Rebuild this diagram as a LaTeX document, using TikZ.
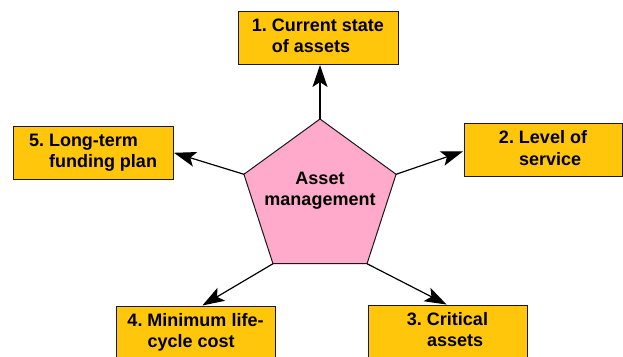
\documentclass[tikz,border=0pt]{standalone}
\usepackage{fontspec}
\setmainfont{Liberation Sans}
\usetikzlibrary{arrows.meta,shapes.geometric}
\definecolor{boxfill}{RGB}{255,198,11}
\definecolor{pinkfill}{RGB}{255,170,202}
\newcommand{\itemtext}[3]{\fontsize{18}{21.5}\selectfont\bfseries\begin{tabular}{@{}l@{}l@{}}\mbox{#1\ } & #2\\ & #3\end{tabular}}
\tikzset{
  goalbox/.style={draw=black!90, line width=0.9pt, fill=boxfill, minimum width=#1, minimum height=53pt, inner sep=0pt, outer sep=0pt},
  goalbox/.default=160pt,
  link/.style={draw=black, line width=1.2pt, -{Stealth[length=22pt,width=15pt,inset=5pt]}, shorten >=1pt},
}
\begin{document}
\begin{tikzpicture}[x=1pt,y=-1pt]
\useasboundingbox (0,0) rectangle (623,356);
\clip (0,0) rectangle (623,356);
\node[regular polygon, regular polygon sides=5, minimum size=160pt, inner sep=0pt, outer sep=0pt, draw=black!90, line width=1pt, fill=pinkfill] (pent) at (320,199) {};
\node[align=center, font=\fontsize{18}{21}\selectfont\bfseries] (ptext) at (320,191) {Asset\\management};
\node[goalbox] (b1) at (318,37.5) {\itemtext{1.}{Current state}{of assets}};
\node[goalbox=158pt] (b2) at (543,150) {\itemtext{2.}{Level of}{service}};
\node[goalbox=159pt] (b3) at (447.5,331.5) {\itemtext{3.}{Critical}{assets}};
\node[goalbox=159pt] (b4) at (195.5,332.5) {\itemtext{4.}{Minimum life-}{cycle cost}};
\node[goalbox] (b5) at (93,152.5) {\itemtext{5.}{Long-term}{funding plan}};
\draw[link] (pent.corner 1) -- (pent.corner 1 |- b1.south);
\draw[link] (pent.corner 5) -- ([yshift=-1pt]b2.west);
\draw[link] (pent.corner 4) -- (b3.north);
\draw[link] (pent.corner 3) -- ([xshift=6pt]b4.north);
\draw[link] (pent.corner 2) -- (b5.east);
\end{tikzpicture}
\end{document}
